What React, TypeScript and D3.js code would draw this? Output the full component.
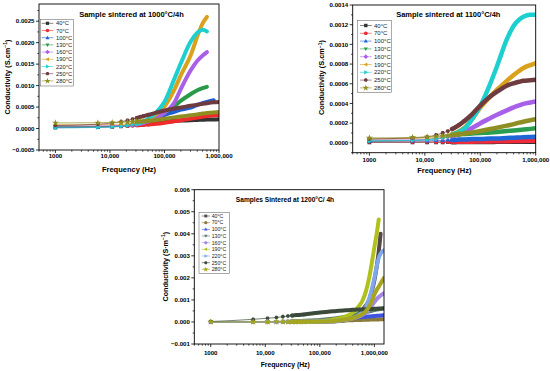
import React from "react";
import * as d3 from "d3";

// ---------------- DATA ----------------
const TEMPS = ["40°C", "70°C", "100°C", "130°C", "160°C", "190°C", "220°C", "250°C", "280°C"];
const SHAPES = ["square", "circle", "up", "down", "diamond", "left", "right", "hexagon", "star"];

const COLORS_1000 = ["#333333", "#ef2b2b", "#1f5fd6", "#2a9a48", "#a860e8", "#d9a21c", "#1ecfcf", "#6e3b3f", "#8e8e22"];
const COLORS_1100 = ["#333333", "#ef2b3b", "#1f66d6", "#2a9e50", "#a860e8", "#d9a21c", "#1ecfcf", "#6e3b3f", "#8e8e22"];
const COLORS_1200 = ["#574848", "#8b7b3a", "#3d55e0", "#5f7f6f", "#a587e6", "#b0c01c", "#7fa8ea", "#3b4a3b", "#a6a51f"];

const X_TICKS = [1000, 10000, 100000, 1000000];
const X_TICK_LABELS = ["1000", "10,000", "100,000", "1,000,000"];

const Y_TICKS_1000 = [-0.0005, 0, 0.0005, 0.001, 0.0015, 0.002, 0.0025];
const Y_TICKS_1100 = [0, 0.0002, 0.0004, 0.0006, 0.0008, 0.001, 0.0012, 0.0014];
const Y_TICKS_1200 = [-0.001, 0, 0.001, 0.002, 0.003, 0.004, 0.005, 0.006];

// measurement frequencies (Hz)
const FREQ_A = [1000, 6000, 11000, 16000, 21000, 26000, 31000, 36000, 41000, 51000, 71000, 101000, 151000, 201000, 301000, 401000, 501000, 601000, 801000, 1000000];
const FREQ_C = [1000, 6000, 11000, 16000, 21000, 26000, 31000, 36000, 41000, 51000, 71000, 101000, 151000, 201000, 301000, 401000, 501000, 601000, 701000, 801000, 901000, 1001000, 1101000, 1201000, 1301000, 1501000];

// conductivity values, in units of 1e-4
const UNIT = 1e-4;

const COND_1000 = [
  [0.2, 0.3, 0.4, 0.5, 0.6, 0.7, 0.8, 0.9, 1.0, 1.15, 1.35, 1.55, 1.75, 1.85, 1.95, 2.0, 2.05, 2.1, 2.1, 2.15],
  [0.4, 0.45, 0.5, 0.55, 0.6, 0.7, 0.75, 0.8, 0.85, 0.95, 1.1, 1.35, 1.7, 1.95, 2.3, 2.55, 2.75, 2.9, 3.05, 3.15],
  [0.3, 0.35, 0.45, 0.6, 0.75, 0.9, 1.05, 1.2, 1.4, 1.75, 2.4, 3.2, 3.9, 4.4, 4.9, 5.5, 5.9, 6.2, 6.6],
  [0.5, 0.5, 0.55, 0.65, 0.8, 0.95, 1.1, 1.3, 1.45, 1.85, 2.7, 3.7, 5.2, 6.5, 8.0, 8.9, 9.4, 9.7],
  [0.6, 0.6, 0.65, 0.7, 0.8, 0.9, 1.0, 1.15, 1.3, 1.7, 2.5, 3.7, 6.0, 9.3, 13.5, 15.8, 17.0, 17.8],
  [0.9, 0.9, 0.95, 1.0, 1.05, 1.15, 1.25, 1.4, 1.6, 2.2, 3.4, 5.2, 9.0, 12.5, 17.0, 21.5, 24.5, 26.0],
  [0.15, 0.25, 0.35, 0.5, 0.7, 0.9, 1.1, 1.3, 1.6, 2.3, 3.8, 6.3, 11.5, 15.3, 20.2, 22.3, 23.0, 22.6],
  [0.7, 1.0, 1.3, 1.6, 1.9, 2.2, 2.45, 2.7, 2.9, 3.2, 3.7, 4.2, 4.65, 4.9, 5.3, 5.55, 5.75, 5.9, 6.1, 6.2],
  [1.3, 1.35, 1.4, 1.45, 1.5, 1.55, 1.6, 1.65, 1.7, 1.8, 2.0, 2.3, 2.6, 2.8, 3.1, 3.3, 3.5, 3.6, 3.75, 3.85],
];

const COND_1100 = [
  [0.05, 0.05, 0.06, 0.06, 0.06, 0.07, 0.07, 0.07, 0.08, 0.08, 0.08, 0.09, 0.09, 0.1, 0.1, 0.1, 0.11, 0.11, 0.12, 0.12],
  [0.1, 0.1, 0.1, 0.1, 0.1, 0.1, 0.1, 0.1, 0.1, 0.12, 0.12, 0.14, 0.15, 0.16, 0.17, 0.18, 0.19, 0.2, 0.21, 0.22],
  [0.15, 0.2, 0.2, 0.25, 0.25, 0.3, 0.3, 0.3, 0.35, 0.35, 0.4, 0.4, 0.45, 0.45, 0.5, 0.52, 0.55, 0.57, 0.6, 0.62],
  [0.2, 0.25, 0.35, 0.45, 0.55, 0.65, 0.75, 0.8, 0.85, 0.9, 0.95, 1.0, 1.05, 1.1, 1.2, 1.25, 1.3, 1.35, 1.42, 1.48],
  [0.3, 0.3, 0.35, 0.4, 0.5, 0.6, 0.7, 0.8, 0.9, 1.1, 1.5, 2.0, 2.5, 2.85, 3.3, 3.6, 3.8, 3.95, 4.1, 4.2],
  [0.4, 0.45, 0.5, 0.55, 0.65, 0.75, 0.9, 1.0, 1.15, 1.5, 2.4, 3.6, 4.7, 5.4, 6.3, 6.9, 7.3, 7.6, 7.9, 8.1],
  [0.2, 0.25, 0.3, 0.4, 0.5, 0.65, 0.8, 0.95, 1.1, 1.4, 2.4, 3.8, 6.0, 7.8, 10.5, 11.9, 12.5, 12.8, 13.0, 13.0],
  [0.4, 0.5, 0.6, 0.8, 1.0, 1.2, 1.4, 1.6, 1.8, 2.2, 2.9, 3.8, 4.7, 5.2, 5.8, 6.05, 6.2, 6.3, 6.35, 6.4],
  [0.5, 0.55, 0.6, 0.65, 0.7, 0.75, 0.8, 0.85, 0.9, 0.95, 1.05, 1.2, 1.4, 1.55, 1.75, 1.9, 2.05, 2.15, 2.3, 2.4],
];

const COND_1200 = [
  [0.05, 0.05, 0.05, 0.05, 0.05, 0.05, 0.06, 0.06, 0.06, 0.07, 0.08, 0.1, 0.2, 0.35, 0.9, 2.0, 3.5, 5.5, 7.5, 10, 14, 19, 25, 32, 40],
  [0.02, 0.03, 0.04, 0.05, 0.06, 0.07, 0.08, 0.09, 0.1, 0.12, 0.2, 0.3, 0.45, 0.55, 0.7, 0.8, 0.9, 0.95, 1.0, 1.05, 1.1, 1.1, 1.15, 1.15, 1.2, 1.2],
  [0.02, 0.03, 0.04, 0.05, 0.06, 0.07, 0.08, 0.09, 0.1, 0.12, 0.2, 0.5, 0.75, 1.0, 1.4, 1.7, 2.0, 2.2, 2.4, 2.5, 2.6, 2.7, 2.8, 2.85, 2.9, 3.0],
  [0.05, 0.1, 0.15, 0.2, 0.25, 0.3, 0.35, 0.4, 0.45, 0.5, 0.7, 0.9, 1.3, 1.7, 2.4, 3.0, 3.5, 4.0, 4.4, 4.8, 5.1, 5.4, 5.6, 5.8, 5.9, 6.1],
  [0.02, 0.02, 0.03, 0.03, 0.04, 0.04, 0.05, 0.05, 0.06, 0.07, 0.1, 0.2, 0.35, 0.55, 1.0, 1.6, 2.3, 3.2, 4.3, 5.8, 7.5, 9.0, 10.3, 11.3, 12.0, 13.0],
  [0.05, 0.05, 0.05, 0.05, 0.05, 0.05, 0.05, 0.06, 0.06, 0.07, 0.15, 0.3, 0.8, 1.4, 2.5, 4.2, 6.7, 9.5, 14, 20, 27, 34, 40, 46.5],
  [0.03, 0.03, 0.03, 0.04, 0.04, 0.05, 0.05, 0.06, 0.06, 0.08, 0.12, 0.2, 0.35, 0.5, 1.0, 1.7, 2.8, 4.5, 7, 10.5, 15, 20, 25, 29, 31, 32.5],
  [0.2, 1.2, 1.7, 2.0, 2.4, 2.7, 2.9, 3.1, 3.2, 3.4, 3.8, 4.3, 4.7, 5.0, 5.3, 5.5, 5.6, 5.7, 5.8, 5.85, 5.9, 5.95, 6.0, 6.05, 6.1, 6.2],
  [0.02, 0.02, 0.03, 0.03, 0.04, 0.04, 0.05, 0.05, 0.06, 0.07, 0.1, 0.2, 0.35, 0.6, 1.1, 1.7, 2.5, 3.5, 5, 7, 9.5, 12.5, 14.5, 16, 17.5, 20],
];

// ---------------- RENDER ----------------
const FONT = "'Liberation Sans', Arial, Helvetica, sans-serif";

function markerPath(shape: string, r: number): string {
  const k = r;
  switch (shape) {
    case "square":
      return `M${-k * 0.9},${-k * 0.9}h${1.8 * k}v${1.8 * k}h${-1.8 * k}Z`;
    case "circle":
      return d3.symbol(d3.symbolCircle, Math.PI * k * k)() as string;
    case "up":
      return `M0,${-1.15 * k}L${1.1 * k},${0.8 * k}L${-1.1 * k},${0.8 * k}Z`;
    case "down":
      return `M0,${1.15 * k}L${1.1 * k},${-0.8 * k}L${-1.1 * k},${-0.8 * k}Z`;
    case "left":
      return `M${-1.15 * k},0L${0.8 * k},${-1.1 * k}L${0.8 * k},${1.1 * k}Z`;
    case "right":
      return `M${1.15 * k},0L${-0.8 * k},${-1.1 * k}L${-0.8 * k},${1.1 * k}Z`;
    case "diamond":
      return `M0,${-1.25 * k}L${1.25 * k},0L0,${1.25 * k}L${-1.25 * k},0Z`;
    case "hexagon": {
      const pts = d3.range(6).map((i) => {
        const a = (Math.PI / 3) * i;
        return [Math.cos(a) * k * 1.05, Math.sin(a) * k * 1.05];
      });
      return "M" + pts.map((p) => p.join(",")).join("L") + "Z";
    }
    case "star":
      return d3.symbol(d3.symbolStar, k * k * 3.6)() as string;
  }
  return "";
}

type Cfg = {
  id: string;
  l: number; r: number; t: number; b: number;
  xDomain: [number, number];
  yDomain: [number, number];
  yTicks: number[];
  yMinorStep: number;
  yFormat: (v: number) => string;
  freq: number[];
  values: number[][];
  colors: string[];
  title: string; titleX: number; titleY: number; titleSize: number;
  xLabelX: number; xLabelY: number; xLabelSize: number;
  yLabel: React.ReactNode; yLabelX: number; yLabelY: number; yLabelSize: number;
  tickSize: number; xTickDy: number;
  band: number; mr: number;
  leg: { x: number; y: number; w: number; h: number; y0: number; step: number; lx1: number; lx2: number; mx: number; tx: number; fs: number; mr: number };
};

function Panel({ c }: { c: Cfg }) {
  const x = d3.scaleLog().domain(c.xDomain).range([c.l, c.r]);
  const y = d3.scaleLinear().domain(c.yDomain).range([c.b, c.t]);
  const line = d3
    .line<[number, number]>()
    .x((d) => x(d[0]))
    .y((d) => y(d[1]))
    .curve(d3.curveMonotoneX);

  const xMinor: number[] = [];
  for (let dec = 100; dec <= 1e6; dec *= 10) {
    for (let k = 2; k <= 9; k++) {
      const f = k * dec;
      if (f >= c.xDomain[0] && f <= c.xDomain[1]) xMinor.push(f);
    }
  }
  const yMinor: number[] = [];
  for (let v = c.yDomain[0]; v <= c.yDomain[1] + 1e-12; v += c.yMinorStep) {
    const vv = Math.round(v / c.yMinorStep) * c.yMinorStep;
    if (!c.yTicks.some((t) => Math.abs(t - vv) < 1e-9)) yMinor.push(vv);
  }

  const series = c.values.map((vals) => vals.map((v, j) => [c.freq[j], v * UNIT] as [number, number]));

  return (
    <g>
      <defs>
        <clipPath id={c.id}>
          <rect x={c.l} y={c.t} width={c.r - c.l} height={c.b - c.t} />
        </clipPath>
      </defs>
      <g clipPath={`url(#${c.id})`}>
        {series.map((pts, i) => {
          const bandPts = pts.filter((p) => p[0] >= 31000);
          const markPts = pts.filter((p) => p[0] <= 51000);
          return (
            <g key={i}>
              <path d={line(pts) || ""} fill="none" stroke={c.colors[i]} strokeWidth={0.7} />
              <path d={line(bandPts) || ""} fill="none" stroke={c.colors[i]} strokeWidth={c.band} strokeLinecap="round" />
              {markPts.map((p, j) => (
                <path
                  key={j}
                  d={markerPath(SHAPES[i], c.mr)}
                  transform={`translate(${x(p[0])},${y(p[1])})`}
                  fill={c.colors[i]}
                />
              ))}
            </g>
          );
        })}
      </g>
      {/* frame */}
      <rect x={c.l} y={c.t} width={c.r - c.l} height={c.b - c.t} fill="none" stroke="#000" strokeWidth={0.9} />
      {/* x ticks */}
      {X_TICKS.map((f, i) => (
        <g key={f}>
          <line x1={x(f)} x2={x(f)} y1={c.b} y2={c.b + 3} stroke="#000" strokeWidth={0.8} />
          <text
            x={x(f)}
            y={c.b + c.xTickDy}
            textAnchor="middle"
            fontSize={c.tickSize}
            fontWeight="bold"
            fontFamily={FONT}
          >
            {X_TICK_LABELS[i]}
          </text>
        </g>
      ))}
      {xMinor.map((f) => (
        <line key={f} x1={x(f)} x2={x(f)} y1={c.b} y2={c.b + 1.7} stroke="#000" strokeWidth={0.7} />
      ))}
      {/* y ticks */}
      {c.yTicks.map((v) => (
        <g key={v}>
          <line x1={c.l - 3} x2={c.l} y1={y(v)} y2={y(v)} stroke="#000" strokeWidth={0.8} />
          <text
            x={c.l - 4.5}
            y={y(v)}
            dy="0.35em"
            textAnchor="end"
            fontSize={c.tickSize}
            fontWeight="bold"
            fontFamily={FONT}
          >
            {c.yFormat(v)}
          </text>
        </g>
      ))}
      {yMinor.map((v) => (
        <line key={v} x1={c.l - 1.7} x2={c.l} y1={y(v)} y2={y(v)} stroke="#000" strokeWidth={0.7} />
      ))}
      {/* labels */}
      <text x={c.titleX} y={c.titleY} textAnchor="middle" fontSize={c.titleSize} fontWeight="bold" fontFamily={FONT}>
        {c.title}
      </text>
      <text x={c.xLabelX} y={c.xLabelY} textAnchor="middle" fontSize={c.xLabelSize} fontWeight="bold" fontFamily={FONT}>
        Frequency (Hz)
      </text>
      <text
        transform={`translate(${c.yLabelX},${c.yLabelY}) rotate(-90)`}
        textAnchor="middle"
        fontSize={c.yLabelSize}
        fontWeight="bold"
        fontFamily={FONT}
      >
        {c.yLabel}
      </text>
      {/* legend */}
      <rect x={c.leg.x} y={c.leg.y} width={c.leg.w} height={c.leg.h} fill="#fff" stroke="#555" strokeWidth={0.5} />
      {TEMPS.map((t, i) => {
        const yy = c.leg.y0 + i * c.leg.step;
        return (
          <g key={t}>
            <line x1={c.leg.lx1} x2={c.leg.lx2} y1={yy} y2={yy} stroke={c.colors[i]} strokeWidth={0.6} />
            <path d={markerPath(SHAPES[i], c.leg.mr)} transform={`translate(${c.leg.mx},${yy})`} fill={c.colors[i]} />
            <text x={c.leg.tx} y={yy} dy="0.35em" fontSize={c.leg.fs} fontFamily={FONT} fill="#222">
              {t}
            </text>
          </g>
        );
      })}
    </g>
  );
}

const fmt4 = (v: number) => (v < 0 ? "\u2212" : "") + Math.abs(v).toFixed(4);
const fmt3 = (v: number) => (v < 0 ? "\u2212" : "") + Math.abs(v).toFixed(3);

const CFG_A: Cfg = {
  id: "clipA",
  l: 39, r: 219, t: 4, b: 150,
  xDomain: [500, 1e6],
  yDomain: [-0.0005, 0.0029],
  yTicks: Y_TICKS_1000,
  yMinorStep: 0.00025,
  yFormat: fmt4,
  freq: FREQ_A,
  values: COND_1000,
  colors: COLORS_1000,
  title: "Sample sintered at 1000°C/4h", titleX: 131.5, titleY: 16.5, titleSize: 7.5,
  xLabelX: 129, xLabelY: 171.5, xLabelSize: 7.5,
  yLabel: (<>Conductivity (S.cm<tspan dy="-2.5" fontSize="5">−1</tspan><tspan dy="2.5">)</tspan></>),
  yLabelX: 9.7, yLabelY: 77, yLabelSize: 7.4,
  tickSize: 6.1, xTickDy: 8,
  band: 4, mr: 2,
  leg: { x: 40.5, y: 19.5, w: 33, h: 66.5, y0: 23.3, step: 7.2, lx1: 41.7, lx2: 53.3, mx: 47.5, tx: 56, fs: 5.8, mr: 1.8 },
};

const CFG_B: Cfg = {
  id: "clipB",
  l: 352.7, r: 535.7, t: 5, b: 152.7,
  xDomain: [500, 1e6],
  yDomain: [-0.0001, 0.0014],
  yTicks: Y_TICKS_1100,
  yMinorStep: 0.0001,
  yFormat: fmt4,
  freq: FREQ_A,
  values: COND_1100,
  colors: COLORS_1100,
  title: "Sample sintered at 1100°C/4h", titleX: 448.3, titleY: 16.5, titleSize: 7.5,
  xLabelX: 444.3, xLabelY: 173, xLabelSize: 7.5,
  yLabel: (<>Conductivity (S.cm<tspan dy="-2.5" fontSize="5">−1</tspan><tspan dy="2.5">)</tspan></>),
  yLabelX: 324.4, yLabelY: 77.5, yLabelSize: 7.4,
  tickSize: 6.1, xTickDy: 8.8,
  band: 4.5, mr: 2.1,
  leg: { x: 357.5, y: 20.5, w: 34, h: 72, y0: 25.5, step: 7.8, lx1: 360, lx2: 371.7, mx: 365.8, tx: 374, fs: 6, mr: 1.9 },
};

const CFG_C: Cfg = {
  id: "clipC",
  l: 194.3, r: 384, t: 189.7, b: 344,
  xDomain: [500, 1.5e6],
  yDomain: [-0.001, 0.006],
  yTicks: Y_TICKS_1200,
  yMinorStep: 0.0005,
  yFormat: fmt3,
  freq: FREQ_C,
  values: COND_1200,
  colors: COLORS_1200,
  title: "Samples Sintered at 1200°C/ 4h", titleX: 285, titleY: 202.3, titleSize: 6.6,
  xLabelX: 285.2, xLabelY: 366.5, xLabelSize: 6.8,
  yLabel: (<>Conductivity (S·m<tspan dy="-2.5" fontSize="5">−1</tspan><tspan dy="2.5">)</tspan></>),
  yLabelX: 167.5, yLabelY: 266.7, yLabelSize: 7.2,
  tickSize: 6.1, xTickDy: 11.4,
  band: 4, mr: 2,
  leg: { x: 199, y: 212.5, w: 30.5, h: 61, y0: 216, step: 6.67, lx1: 201.7, lx2: 210, mx: 205.8, tx: 211.7, fs: 5.2, mr: 1.6 },
};

export default function App() {
  return (
    <div style={{ position: "absolute", left: 0, top: 0 }}>
      <svg width={550} height={371} viewBox="0 0 550 371" style={{ display: "block", background: "#fff" }}>
        <rect x={0} y={0} width={550} height={371} fill="#fff" />
        <Panel c={CFG_A} />
        <Panel c={CFG_B} />
        <Panel c={CFG_C} />
      </svg>
    </div>
  );
}
